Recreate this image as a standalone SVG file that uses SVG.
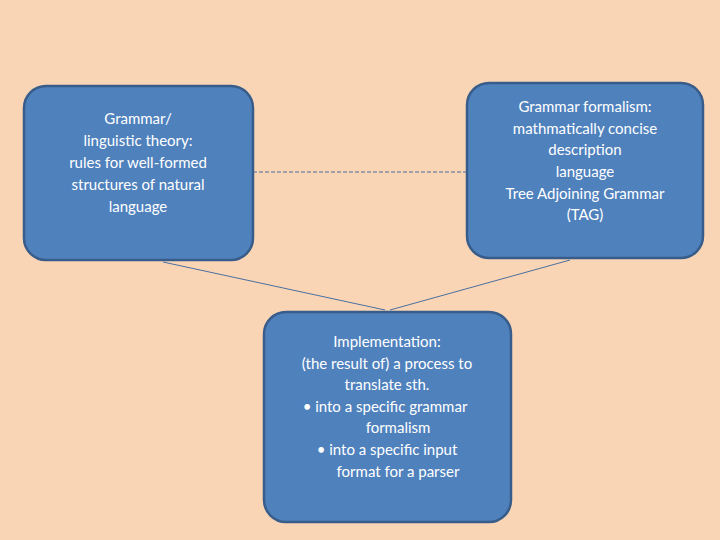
<svg xmlns="http://www.w3.org/2000/svg" width="720" height="540" viewBox="0 0 720 540">
<style>
.box{fill:#4F81BD;stroke:#385D8A;stroke-width:2.5}
text{font-family:Lato,"Open Sans",sans-serif;font-size:15px;fill:#fff;text-anchor:middle}
.c{stroke:#4A6FA0;stroke-width:1;fill:none}
</style>
<rect width="720" height="540" fill="#FAD5B5"/>
<g id="connectors">
<line class="c" x1="253" y1="172" x2="467" y2="172" stroke-dasharray="4,2"/>
<line class="c" x1="163" y1="262" x2="385" y2="310"/>
<line class="c" x1="570" y1="260" x2="390" y2="310"/>
</g>
<g id="n1">
<rect class="box" x="24" y="86" width="229" height="174" rx="22"/>
<text x="138" y="124">Grammar/</text>
<text x="138" y="146">linguistic theory:</text>
<text x="138" y="168">rules for well-formed</text>
<text x="138" y="190">structures of natural</text>
<text x="138" y="212">language</text>
</g>
<g id="n2">
<rect class="box" x="467" y="83" width="236" height="175" rx="22"/>
<text x="585" y="112">Grammar formalism:</text>
<text x="585" y="134">mathmatically concise</text>
<text x="585" y="155">description</text>
<text x="585" y="177">language</text>
<text x="585" y="199">Tree Adjoining Grammar</text>
<text x="585" y="220">(TAG)</text>
</g>
<g id="n3">
<rect class="box" x="264" y="312" width="247" height="210" rx="22"/>
<text x="387" y="347">Implementation:</text>
<text x="387" y="369">(the result of) a process to</text>
<text x="387" y="390">translate sth.</text>
<text x="385" y="412">•  into a specific grammar</text>
<text x="398" y="433">formalism</text>
<text x="387" y="455">•  into a specific input</text>
<text x="398" y="477">format for a parser</text>
</g>
</svg>
